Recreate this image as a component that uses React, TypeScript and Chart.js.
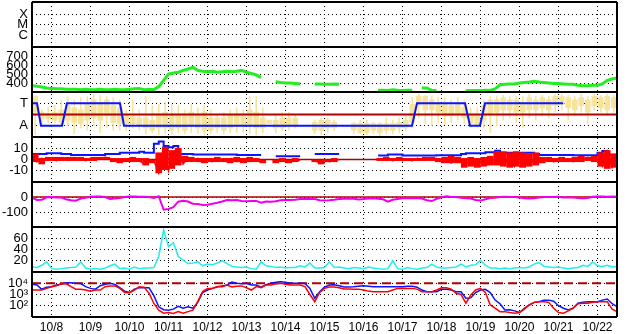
import React, { useEffect, useRef } from 'react';
import { Chart, registerables } from 'chart.js';

Chart.register(...registerables);

// ---- time axis -------------------------------------------------------------
const DAY_LABELS = ['10/8', '10/9', '10/10', '10/11', '10/12', '10/13', '10/14', '10/15', '10/16', '10/17', '10/18', '10/19', '10/20', '10/21', '10/22'];
const SAMPLE_STEP = 0.125; // days between samples (3 h)
const BIN_STEP = 1 / 6; // days per range bin (4 h)

// ---- panel tick labels -----------------------------------------------------
const XRAY_TICKS = [1, 2, 3];
const XRAY_LABELS = ['', 'C', 'M', 'X'];
const SPEED_TICKS = [400, 500, 600, 700];
const TA_TICKS = [-10, 10];
const BZ_TICKS = [-10, 0, 10];
const DST_TICKS = [-100, 0];
const DEN_TICKS = [20, 40, 60];
const E_TICKS = [100, 1000, 10000];
const E_LABELS: Record<number, string> = { 100: '10\u00B2', 1000: '10\u00B3', 10000: '10\u2074' };

// ---- solar wind speed (km/s), 3-hourly -------------------------------------
const speed = [
  370, 365, 355, 345, 340, 335, 335, 330, 330, 330,
  325, 330, 325, 325, 330, 325, 325, 330, 325, 325,
  330, 335, 340, 325, 330, 325, 360, 430, 500, 510,
  520, 540, 555, 575, 540, 530, 525, 530, 520, 525,
  530, 525, 530, 540, 520, 505, 490, 460, null, null,
  415, 405, 400, 400, 395, 390, null, null, 390, 390,
  385, 385, 390, 385, null, null, null, null, null, null,
  null, 320, 320, 318, 325, 320, 318, 320, 320, null,
  345, 345, 318, 318, null, null, null, null, null, 315,
  318, 318, 318, 320, 318, 335, 380, 385, 390, 390,
  400, 405, 410, 420, 410, 405, 400, 395, 395, 390,
  385, 385, 375, 370, 370, 375, 375, 390, 430, 445,
  455,
];

// ---- T / A sector indicator ------------------------------------------------
const taTimes = [0, 0.128, 0.231, 0.769, 0.897, 2.256, 2.359, 9.744, 9.872, 11.103, 11.231, 11.487, 11.615, 13.615];
const taValues = [10, 10, -10, -10, 10, 10, -10, -10, 10, 10, -10, -10, 10, 10];
const TA_REF = 0;
const yellowCore: ([number, number] | null)[] = [
  [2, 16], [-4, 2], [-4, 1], [-5, 2], [-7, 4], [-5, 8], [-7, 6], [-8, 4], [-5, 9], [-3, 13],
  [-5, 11], [-1, 13], [-7, 8], [-8, 6], [-8, -1], [-8, -2], [-10, -3], [-12, -3], [-14, -5], [-12, 0],
  [-12, 2], [-14, 0], [-12, 0], [-14, -1], [-10, 2], [-12, 0], [-14, 2], [-14, -3], [-12, -3], [-14, -3],
  [-12, -1], [-10, 0], [-10, -1], [-10, 4], [-12, 2], [-12, -3], [-8, -5], [-12, -5], [-12, -3], [-10, -3],
  [-10, -3], null, null, [-14, -7], [-14, -5], [-12, -5], [-12, -7], null, null, [-14, -8],
  [-16, -8], [-16, -8], [-14, -8], [-16, -8], [-14, -8], [-14, -8], [-12, -7], [-12, -5], [-7, 9], [8, 16],
  [4, 16], [4, 13], [2, 11], [-1, 9], [-1, 8], [0, 9], [-3, 6], [-8, 0], [-10, 0], [-5, 8],
  [0, 13], [2, 13], [4, 15], [4, 13], [2, 13], [2, 11], [4, 15], [4, 13], [6, 15], [4, 13],
  [8, 16], [9, 16], [6, 15], [4, 13], [8, 15], [2, 13], [8, 16], [6, 15], [4, 16], [6, 15],
];
const yellowStreak: ([number, number] | null)[] = [
  [-18, 17], [-9, 4], [-7, 6], [-8, 8], [-10, 13], [-10, 16], [-17, 13], [-12, 15], [-14, 16], [-10, 18],
  [-16, 17], [-12, 16], [-14, 15], [-14, 13], [-14, 4], [-12, 13], [-14, 4], [-17, 16], [-16, 8], [-18, 9],
  [-17, 11], [-17, 9], [-16, 8], [-17, 4], [-16, 9], [-17, 6], [-18, 8], [-17, 4], [-16, 0], [-17, 2],
  [-16, 4], [-16, 6], [-16, 4], [-17, 16], [-18, 16], [-16, 6], null, [-16, -1], [-14, 2], [-14, 2],
  [-12, 0], null, null, [-17, -5], [-18, -3], [-16, -3], [-14, -5], null, null, [-17, -7],
  [-17, -5], [-18, -5], [-17, -7], [-19, -7], [-17, -3], [-17, -5], [-16, -3], [-14, -1], [-12, 15], [-3, 18],
  [-8, 17], [-10, 16], [-7, 15], [-9, 15], [-7, 13], [-5, 15], [-8, 13], [-12, 6], [-12, 6], [-12, 13],
  [-16, 16], [-10, 16], [-5, 17], [-3, 16], [-7, 16], [-12, 16], [-3, 18], [-5, 16], [-1, 17], [-3, 16],
  [2, 18], [4, 18], [-5, 17], [-1, 16], [2, 18], [-8, 16], [4, 18], [2, 17], [-1, 18], [2, 17],
];

// ---- IMF Bz and Bt (nT), 3-hourly ------------------------------------------
const bz = [
  1, -2, 1, 0, 1, -1, 1, 0, 1, 0,
  1, -1, 1, 0, 1, 2, 1, -1, -2, 0,
  -2, 1, -1, -4, -2, -1, -12, 9, -10, 7,
  10, -4, 2, -1, 1, -2, 0, -2, 1, -1,
  -2, 1, -2, 0, -2, 1, -1, -2, null, null,
  -2, 0, -2, -1, 0, -1, null, null, -1, -3,
  0, -2, -1, 0, null, null, null, null, null, null,
  null, 1, 0, 1, -1, 1, -1, 0, -1, 1,
  0, 1, 0, 1, -2, -1, -3, -1, -2, -4,
  -1, -6, -2, -5, 0, -4, 6, -5, 5, -6,
  4, -5, 3, -4, 2, -1, 1, -2, 1, -1,
  0, -2, 1, -1, 2, 0, 1, -6, 7, -7,
  2,
];
// Bz spread within each 4-hour bin (min, max)
const bzRange: ([number, number] | null)[] = [
  [-2, 5], [-4, 1], [-1, 2], [-1, 2], [-1, 2], [-1, 2], [-1, 2], [-1, 2], [-1, 1], [-1, 2],
  [0, 2], [0, 2], [-2, 1], [-3, 1], [-2, 1], [-2, 2], [-2, 1], [-5, 1], [-3, 0], [-12, 6],
  [-9, 11], [-8, 8], [-5, 10], [-2, 3], [-2, 2], [-2, 1], [-3, 1], [-2, 1], [-2, 2], [-2, 1],
  [-3, 1], [-2, 2], [-3, 1], [-2, 2], [-2, 1], [-3, 0], null, [-3, 0], [-2, 1], [-3, 0],
  [-2, 1], null, null, [-2, 0], [-4, 0], [-2, 0], [-2, 1], null, null, null,
  null, null, null, [-1, 1], [-1, 2], [-1, 1], [-1, 2], [-1, 1], [-1, 1], [-1, 1],
  [-1, 2], [-1, 2], [-2, 1], [-3, 2], [-3, 3], [-3, 2], [-7, 1], [-6, 2], [-7, 1], [-6, 2],
  [-5, 3], [-5, 7], [-6, 7], [-7, 6], [-6, 7], [-7, 6], [-6, 5], [-5, 6], [-3, 2], [-2, 2],
  [-2, 1], [-2, 2], [-2, 1], [-2, 2], [-2, 3], [-1, 2], [-2, 3], [-6, 6], [-8, 8], [-7, 5],
];
const bt = [
  3.5, 5, 5, 5, 5.5, 5.5, 5.5, 5, 5, 4,
  4, 4, 4, 4, 4, 4, 5, 5, 5, 6,
  6, 6, 6, 7, 6, 6, 14, 16, 12, 11,
  12, 5, 5, 5, 4.5, 4.5, 4.5, 4.5, 4.5, 4.5,
  4.5, 4.5, 4.5, 4, 4, 4, 4, 4, null, null,
  3, 3, 3, 3, 3, 3, null, null, 5, 5,
  5, 5, 5, 5, null, null, null, null, null, null,
  null, 3.5, 3.5, 3.5, 4.5, 4.5, 4.5, 3.5, 3.5, 3.5,
  3.5, 3.5, 3.5, 3.5, 3.7, 3.7, 3.7, 3.7, 3.7, 4.9,
  5.5, 5.5, 5.5, 5.5, 6.4, 6.4, 7.8, 6, 6, 6,
  6, 6, 6, 6, 5, 4, 4, 4, 4, 4,
  4, 4, 3.7, 3.7, 3.7, 3.7, 3.7, 6, 7.6, 4.3,
  4.3,
];
const BZ_REF = 0;

// ---- Dst (nT), 3-hourly ----------------------------------------------------
const dst = [
  -5, -20, -18, -2, 0, -3, -3, -15, -22, -25,
  -10, -5, 2, 3, 3, 0, -13, -10, -7, 0,
  3, 3, 2, 2, 0, -7, 5, -85, -80, -68,
  -31, -25, -30, -45, -47, -53, -52, -45, -38, -30,
  -20, -22, -20, -26, -28, -27, -26, -38, -30, -32,
  -28, -22, -20, -20, -18, -14, -13, -12, -14, -22,
  -24, -22, -18, -13, -12, -10, -12, -16, -14, -10,
  -9, -12, -15, -31, -18, -13, -9, -9, -8, -9,
  -10, -22, -27, -12, -2, 5, 0, 0, -5, -9,
  -10, -20, -24, -15, -7, -5, 0, 2, 0, 0,
  -3, -9, -10, -8, -4, 0, 0, 0, 1, -3,
  -3, -3, -6, -8, -6, 2, 3, 3, 2, 3,
  2,
];
const DST_REF = 0;

// ---- proton density, 3-hourly ---------------------------------------------
const density = [
  9, 8, 12, 18, 6, 5, 6, 7, 8, 9,
  18, 7, 5, 6, 5, 7, 11, 14, 6, 7,
  5, 9, 6, 7, 7, 8, 28, 75, 45, 52,
  28, 21, 15, 16, 18, 11, 14, 13, 16, 20,
  15, 10, 9, 8, 9, 6, 5, 18, 11, 10,
  8, 9, 7, 8, 8, 11, 9, 16, 7, 7,
  8, 18, 8, 9, 7, 6, 8, 7, 6, 9,
  7, 6, 5, 6, 20, 6, 5, 8, 6, 5,
  7, 8, 14, 9, 7, 7, 8, 9, 14, 9,
  12, 13, 21, 12, 7, 7, 6, 7, 6, 7,
  8, 7, 9, 14, 17, 10, 9, 8, 9, 7,
  6, 7, 8, 12, 10, 18, 11, 10, 12, 9,
  10,
];

// ---- electron flux (two satellites), 3-hourly ------------------------------
const electronBlue = [
  8100, 7000, 2900, 4500, 4900, 7000, 8100, 11000, 11000, 10000,
  9500, 5000, 3500, 3000, 6000, 8100, 10000, 8000, 4000, 2000,
  1500, 3000, 4000, 4000, 3900, 800, 80, 45, 40, 50,
  90, 60, 80, 60, 200, 1500, 2500, 3500, 4900, 5800,
  6900, 13000, 10000, 9000, 10000, 7000, 6900, 4500, 7500, 10000,
  12000, 13800, 12000, 10000, 10000, 10000, 9500, 3500, 460, 1800,
  4500, 6900, 7500, 6000, 4700, 4700, 5000, 5500, 6000, 5500,
  5000, 4900, 4900, 4900, 4900, 5000, 5000, 5500, 5500, 4500,
  2500, 1800, 1780, 1800, 2900, 2900, 2500, 1800, 1780, 460,
  500, 1500, 2500, 2900, 1500, 320, 150, 42, 45, 35,
  25, 60, 117, 200, 230, 316, 316, 250, 100, 60,
  42, 60, 166, 200, 229, 229, 229, 316, 400, 150,
  83,
];
const electronRed = [
  2500, 2500, 2500, 3500, 4900, 6000, 9000, 9500, 5000, 3000,
  2900, 2500, 2000, 2500, 2500, 5000, 5800, 5800, 3500, 1500,
  1400, 2500, 4900, 4500, 1300, 160, 40, 22, 25, 21,
  30, 22, 30, 40, 230, 1800, 3500, 3500, 4900, 5000,
  6900, 4700, 5500, 5800, 4000, 2500, 5000, 4000, 6900, 6900,
  9000, 10000, 8000, 7000, 6900, 6900, 5000, 1000, 230, 1500,
  3500, 4700, 4700, 4000, 3100, 3100, 3000, 3000, 2500, 2000,
  1800, 1800, 1800, 1800, 2500, 3500, 3550, 3500, 3500, 3000,
  1800, 1780, 1780, 2500, 3900, 4000, 3000, 1300, 1000, 170,
  900, 2500, 3500, 1500, 117, 60, 30, 30, 25, 22,
  25, 50, 117, 200, 229, 229, 200, 60, 25, 22,
  35, 60, 150, 166, 166, 200, 229, 229, 229, 50,
  30,
];
const E_REF = 10000;

// ---- helpers ---------------------------------------------------------------
const toPoints = (vals: (number | null)[]) => vals.map((v, i) => ({ x: i * SAMPLE_STEP, y: v }));
const toBins = (vals: ([number, number] | null)[]) =>
  vals
    .map((v, i) => (v ? { x: (i + 0.5) * BIN_STEP, y: v } : null))
    .filter((p) => p !== null);
const refLine = (v: number) => [
  { x: 0, y: v },
  { x: DAY_LABELS.length, y: v },
];

const BLUE = '#0a14ff';
const RED = '#ff0000';
const DARK_RED = '#b00000';
const GREEN = '#22ee22';
const MAGENTA = '#ee00ee';
const CYAN = '#22eeee';
const YELLOW = '#f6e39c';

const FONT_X = { family: "'Liberation Sans', Arial, Helvetica, sans-serif", size: 12 };
const FONT_Y = { family: "'Liberation Sans', Arial, Helvetica, sans-serif", size: 13 };

const framePlugin = {
  id: 'panelFrame',
  afterDatasetsDraw(chart: any) {
    const { ctx, chartArea } = chart;
    const { left, right, top, bottom } = chartArea;
    ctx.save();
    ctx.strokeStyle = '#000';
    ctx.lineWidth = 2;
    ctx.beginPath();
    Object.values(chart.scales).forEach((s: any) => {
      if (s.axis === 'y') {
        ctx.moveTo(left, s.top);
        ctx.lineTo(right, s.top);
      }
    });
    ctx.moveTo(left, bottom);
    ctx.lineTo(right, bottom);
    ctx.moveTo(left, top);
    ctx.lineTo(left, bottom);
    ctx.moveTo(right, top);
    ctx.lineTo(right, bottom);
    ctx.stroke();
    ctx.restore();
  },
};

const noPadding = (s: any) => {
  s.paddingTop = 0;
  s.paddingBottom = 0;
  s.paddingLeft = 0;
  s.paddingRight = 0;
};

function yAxis(weight: number, min: number, max: number, tickVals: number[], label: (v: number) => string, type = 'linear') {
  return {
    type,
    position: 'left',
    stack: 'panels',
    stackWeight: 1,
    weight,
    min,
    max,
    offset: false,
    afterBuildTicks: (s: any) => {
      s.ticks = tickVals.map((v) => ({ value: v }));
    },
    afterFit: (s: any) => {
      s.width = 32;
      noPadding(s);
    },
    ticks: { callback: (v: any) => label(Number(v)), font: FONT_Y, color: '#000', padding: 4, autoSkip: false },
    grid: { color: '#000', lineWidth: 1, drawTicks: false },
    border: { display: false, dash: [1, 3] },
  };
}

export default function App() {
  const canvasRef = useRef<HTMLCanvasElement>(null);

  useEffect(() => {
    document.body.style.margin = '0';
    const canvas = canvasRef.current;
    if (!canvas) return;

    const line = (data: any[], yAxisID: string, color: string, width: number, extra: any = {}) => ({
      type: 'line',
      data,
      yAxisID,
      xAxisID: 'x',
      borderColor: color,
      backgroundColor: color,
      borderWidth: width,
      pointRadius: 0,
      tension: 0,
      spanGaps: false,
      fill: false,
      ...extra,
    });
    const bars = (data: any[], yAxisID: string, color: string, thickness: number) => ({
      type: 'bar',
      data,
      yAxisID,
      xAxisID: 'x',
      backgroundColor: color,
      borderWidth: 0,
      barThickness: thickness,
      grouped: false,
    });

    const chart = new Chart(canvas, {
      type: 'line',
      data: {
        datasets: [
          line(taTimes.map((t, i) => ({ x: t, y: taValues[i] })), 'yTA', BLUE, 2),
          line(refLine(TA_REF), 'yTA', DARK_RED, 2),
          bars(toBins(yellowCore), 'yTA', YELLOW, 5),
          bars(toBins(yellowStreak), 'yTA', YELLOW, 1),
          line(toPoints(speed), 'ySpeed', GREEN, 3),
          line(toPoints(bz), 'yBz', RED, 1.5),
          bars(toBins(bzRange), 'yBz', RED, 6),
          line(toPoints(bt), 'yBz', BLUE, 2, { stepped: 'after' }),
          line(refLine(BZ_REF), 'yBz', DARK_RED, 1.5),
          line(toPoints(dst), 'yDst', MAGENTA, 2),
          line(refLine(DST_REF), 'yDst', DARK_RED, 1.5),
          line(toPoints(density), 'yDen', CYAN, 1.5),
          line(toPoints(electronRed), 'yE', RED, 1.5),
          line(toPoints(electronBlue), 'yE', BLUE, 1.5),
          line(refLine(E_REF), 'yE', DARK_RED, 2, { borderDash: [9, 5] }),
        ] as any,
      },
      options: {
        responsive: false,
        animation: false,
        events: [],
        layout: { padding: { left: 0, right: 11, top: 2, bottom: 0 } },
        plugins: { legend: { display: false }, tooltip: { enabled: false }, title: { display: false } },
        scales: {
          x: {
            type: 'linear',
            position: 'bottom',
            min: 0,
            max: DAY_LABELS.length,
            offset: false,
            afterBuildTicks: (s: any) => {
              s.ticks = Array.from({ length: DAY_LABELS.length + 1 }, (_, i) => ({ value: i }));
            },
            afterFit: (s: any) => {
              s.height = 17;
              noPadding(s);
            },
            ticks: {
              callback: (v: any) => DAY_LABELS[Number(v)] ?? '',
              labelOffset: 19.5,
              font: FONT_X,
              color: '#000',
              padding: 3,
              maxRotation: 0,
              autoSkip: false,
            },
            grid: { color: '#000', lineWidth: 1, drawTicks: false },
            border: { display: false, dash: [1, 3] },
          },
          yXray: yAxis(7, -0.15, 4.15, XRAY_TICKS, (v) => XRAY_LABELS[v] ?? ''),
          ySpeed: yAxis(6, 300, 800, SPEED_TICKS, (v) => String(v)),
          yTA: yAxis(5, -20, 20, TA_TICKS, (v) => (v > 0 ? 'T' : 'A')),
          yBz: yAxis(4, -20, 20, BZ_TICKS, (v) => String(v)),
          yDst: yAxis(3, -200, 100, DST_TICKS, (v) => String(v)),
          yDen: yAxis(2, 0, 80, DEN_TICKS, (v) => String(v)),
          yE: yAxis(1, 10, 100000, E_TICKS, (v) => E_LABELS[v] ?? '', 'logarithmic'),
        } as any,
      },
      plugins: [framePlugin],
    });

    return () => chart.destroy();
  }, []);

  return (
    <div style={{ width: 628, height: 334, background: '#fff' }}>
      <canvas ref={canvasRef} width={628} height={334} style={{ display: 'block' }} />
    </div>
  );
}
